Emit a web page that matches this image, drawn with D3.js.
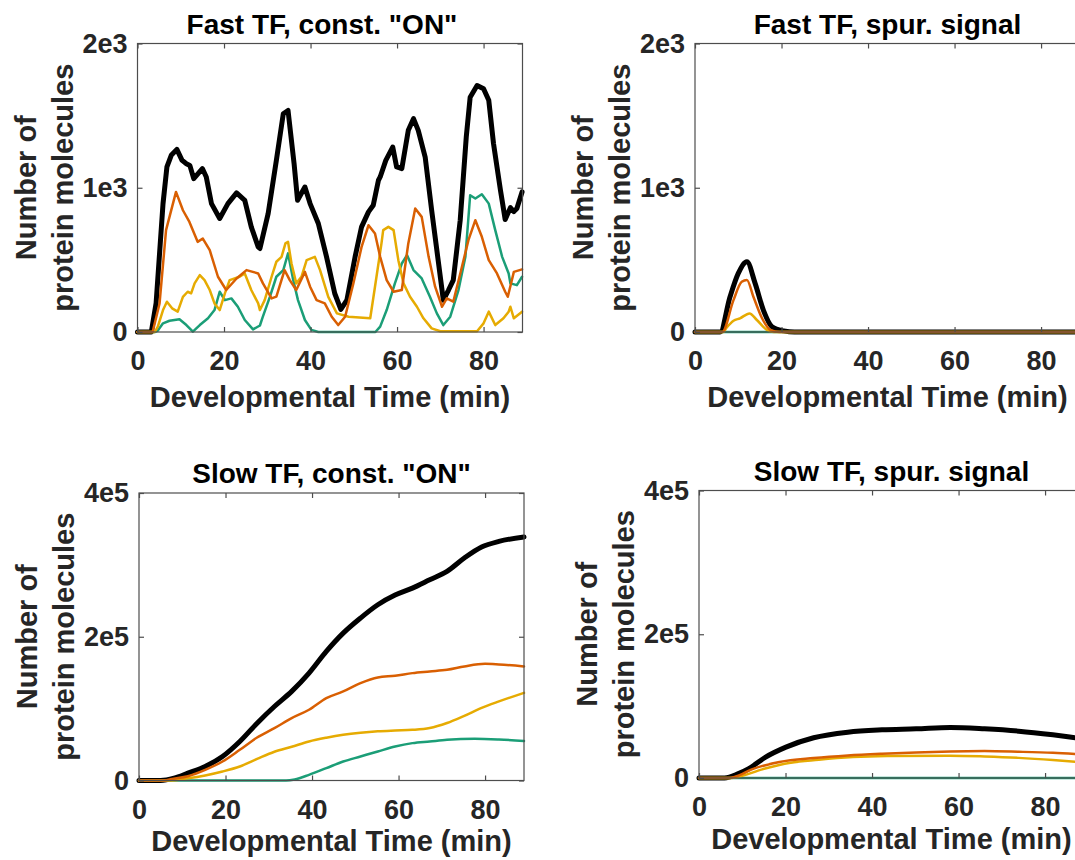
<!DOCTYPE html>
<html>
<head>
<meta charset="utf-8">
<script src="https://cdn.jsdelivr.net/npm/d3@7"></script>
<style>
  body { margin: 0; background: #fff; }
  svg { display: block; font-family: "Liberation Sans", Arial, sans-serif; font-weight: bold; }
</style>
</head>
<body>
<svg id="fig" width="1075" height="860"></svg>
<script>
// ---- data ----
var timeTicks = [0, 20, 40, 60, 80];
var timeMax = 89;
var fastYTicks = [0, 1000, 2000];
var fastYLabels = ["0", "1e3", "2e3"];
var slowYTicks = [0, 200000, 400000];
var slowYLabels = ["0", "2e5", "4e5"];
var panelTitles = ['Fast TF, const. "ON"', 'Fast TF, spur. signal', 'Slow TF, const. "ON"', 'Slow TF, spur. signal'];
var xLabel = "Developmental Time (min)";
var yLabel = ["Number of", "protein molecules"];

// [time, molecules]
var fastOnTotal = [[0,0],[3.2,0],[4.3,200],[5.9,890],[6.8,1144],[7.8,1225],[9.1,1266],[10.3,1190],[11.3,1167],[12.1,1155],[13.0,1063],[14.0,1098],[15.0,1133],[15.9,1075],[17.1,890],[19.0,787],[20.9,890],[22.9,964],[24.8,913],[26.3,729],[27.9,590],[28.3,579],[30.2,821],[32.1,1190],[33.7,1513],[34.8,1536],[36.2,1167],[37.0,913],[38.7,1005],[39.9,890],[41.8,752],[43.7,521],[45.6,267],[47.0,157],[48.4,221],[50.3,521],[51.8,729],[53.4,833],[54.5,879],[55.7,1052],[56.1,1075],[57.4,1190],[59.0,1282],[59.9,1144],[61.1,1133],[62.6,1398],[63.8,1479],[64.9,1398],[66.5,1213],[68.0,844],[69.6,475],[70.7,221],[71.9,291],[73.0,360],[74.6,775],[76.0,1352],[76.9,1628],[78.5,1709],[80.0,1686],[81.2,1606],[82.3,1306],[83.9,983],[85.0,780],[86.2,862],[87.0,835],[87.7,856],[88.9,971]];
var fastOnOrange = [[0,0],[3.5,0],[5.1,198],[6.6,706],[8.9,971],[10.5,844],[12.0,763],[13.9,625],[15.1,648],[16.7,567],[18.6,383],[20.5,291],[22.9,371],[25.2,429],[27.9,406],[29.0,337],[31.0,233],[32.1,245],[34.0,429],[35.2,360],[36.7,291],[38.7,417],[39.9,314],[41.4,221],[43.3,198],[44.9,106],[46.4,48],[48.0,106],[49.9,337],[51.8,590],[53.4,740],[54.9,683],[56.1,521],[57.6,360],[59.2,279],[61.1,291],[62.6,614],[64.2,856],[65.7,798],[67.3,521],[68.8,314],[70.4,175],[71.5,233],[73.0,210],[75.0,452],[76.5,637],[78.1,775],[79.6,660],[81.2,498],[83.1,406],[85.0,279],[85.6,244],[87.0,417],[88.9,434]];
var fastOnYellow = [[0,0],[4.0,0],[4.7,37],[5.9,152],[6.8,210],[8.0,164],[9.3,141],[10.5,244],[11.6,279],[12.4,268],[13.2,337],[14.4,394],[15.5,360],[16.7,291],[17.8,198],[19.0,152],[20.2,268],[21.3,360],[23.6,383],[24.8,406],[26.3,291],[27.9,198],[28.3,152],[29.4,221],[31.0,383],[32.1,487],[33.3,521],[34.2,614],[34.8,625],[35.6,475],[36.7,337],[37.9,383],[39.1,498],[41.0,521],[42.2,429],[44.1,244],[46.1,129],[48.8,106],[53.8,95],[54.9,314],[56.4,614],[56.8,706],[58.0,729],[59.2,706],[60.3,498],[61.5,337],[63.0,244],[64.6,175],[66.1,95],[68.0,25],[70.0,5],[78.5,5],[80.0,60],[81.2,141],[82.7,48],[84.6,95],[85.8,141],[86.2,175],[87.0,95],[88.9,141]];
var fastOnGreen = [[0,0],[4.0,0],[4.7,10],[5.9,60],[7.4,78],[9.7,88],[11.3,48],[12.8,2],[14.4,48],[16.3,95],[17.8,152],[19.0,279],[20.2,221],[21.7,233],[23.2,175],[24.8,83],[26.7,18],[28.3,45],[28.9,100],[30.6,244],[32.1,383],[33.7,429],[34.8,545],[36.0,360],[37.1,221],[38.7,83],[40.2,15],[41.8,0],[55.0,0],[56.1,37],[57.6,152],[59.5,337],[61.1,475],[62.3,533],[63.8,429],[65.7,371],[67.6,244],[69.2,129],[70.7,48],[72.3,106],[74.2,291],[75.8,521],[76.9,948],[78.1,925],[79.6,955],[81.2,890],[82.7,706],[84.3,521],[85.8,406],[86.2,337],[87.7,325],[88.9,383]];

var fastSpurTotal = [[0,0],[5.8,0],[8.1,244],[10.0,406],[12.0,487],[13.9,337],[15.8,152],[17.8,37],[20.5,8],[23,0],[89,0]];
var fastSpurOrange = [[0,0],[6.3,0],[8.9,221],[10.8,348],[12.0,360],[13.5,244],[15.5,95],[17.4,15],[19.5,0],[89,0]];
var fastSpurYellow = [[0,0],[6.5,0],[7.3,30],[8.9,78],[10.4,95],[12.6,129],[14.3,83],[16.6,15],[18.2,0],[89,0]];
var fastSpurGreen = [[0,0],[89,0]];

var slowOnTotal = [[0,0],[5,0],[8.1,3200],[11.3,10200],[15.3,19500],[19.3,33400],[23.3,54300],[27.3,79800],[31.3,103000],[35.3,124000],[39.3,149400],[43.3,179600],[47.2,205000],[51.2,226000],[55.2,244500],[59.2,258000],[63.2,267700],[67.2,279300],[71.2,291000],[75.2,309500],[79.2,324800],[83.2,332700],[89,338700]];
var slowOnOrange = [[0,0],[6,0],[7.3,1800],[11.3,6000],[15.3,14800],[19.3,26400],[23.3,42700],[27.3,59900],[31.3,72800],[35.3,86800],[39.3,98400],[43.3,114600],[47.2,123900],[51.2,135500],[55.2,143400],[59.2,145700],[63.2,149400],[67.2,151700],[71.2,154000],[75.2,158700],[80,162400],[83.2,161500],[89,158700]];
var slowOnYellow = [[0,0],[7,0],[11.3,3000],[15.3,7000],[19.3,12500],[23.3,19500],[27.3,30000],[31.3,40000],[35.3,47000],[39.3,54300],[43.3,59500],[47.2,63600],[51.2,66500],[55.2,68500],[59.2,69600],[63.2,70500],[67.2,73000],[71.2,80000],[75.2,90000],[79.2,101000],[83.2,110000],[89,122000]];
var slowOnGreen = [[0,0],[34,0],[36,1500],[39.3,7900],[43.3,17200],[47.2,26400],[51.2,33400],[55.2,40400],[59.2,47300],[63.2,52000],[67.2,54300],[71.2,56600],[77.6,58000],[83.2,57000],[89,55000]];

var slowSpurTotal = [[0,0],[5.9,0],[9.1,6000],[11.5,12900],[15.4,29100],[20.1,43000],[26.5,56000],[34.4,63800],[42.3,67000],[50.2,68400],[58.1,70300],[66.0,68400],[73.9,65200],[81.8,60100],[87.1,56000],[89,54500]];
var slowSpurOrange = [[0,0],[7,0],[8.5,2000],[12.2,12000],[18.6,22200],[26.5,27700],[34.4,31400],[42.3,33800],[50.2,35600],[58.1,37000],[66,37500],[73.9,36500],[81.8,35000],[89,32500]];
var slowSpurYellow = [[0,0],[7.5,0],[9,1500],[14.6,12000],[19.8,19900],[27.7,25400],[35.6,29100],[43.5,30500],[58,31000],[66,29900],[73.9,28000],[81.8,25000],[89,21500]];
var slowSpurGreen = [[0,0],[89,0]];

// ---- drawing ----
var svg = d3.select("#fig");
var axisColor = "#4d4d4d", textColor = "#262626";
var plotWidth = 385;

function seriesOf(total, green, yellow, orange) {
  // black drawn first, orange ends up on top
  return [
    {data: total,  color: "#000000", width: 5},
    {data: green,  color: "#1b9e77", width: 2.5},
    {data: yellow, color: "#e6ab02", width: 2.5},
    {data: orange, color: "#d95f02", width: 2.5}
  ];
}

var panels = [
  {left: 137.5, top: 43.5, bottom: 332, ticks: fastYTicks, labels: fastYLabels, title: panelTitles[0],
   titleShift: -8, xLabelGap: 75,
   curve: d3.curveLinear, series: seriesOf(fastOnTotal, fastOnGreen, fastOnYellow, fastOnOrange)},
  {left: 695, top: 43.5, bottom: 332, ticks: fastYTicks, labels: fastYLabels, title: panelTitles[1],
   titleShift: 0, xLabelGap: 75,
   curve: d3.curveMonotoneX, series: seriesOf(fastSpurTotal, fastSpurGreen, fastSpurYellow, fastSpurOrange)},
  {left: 139, top: 493, bottom: 780.5, ticks: slowYTicks, labels: slowYLabels, title: panelTitles[2],
   titleShift: 0, xLabelGap: 70,
   curve: d3.curveMonotoneX, series: seriesOf(slowOnTotal, slowOnGreen, slowOnYellow, slowOnOrange)},
  {left: 699, top: 490.5, bottom: 778, ticks: slowYTicks, labels: slowYLabels, title: panelTitles[3],
   titleShift: 0, xLabelGap: 71,
   curve: d3.curveMonotoneX, series: seriesOf(slowSpurTotal, slowSpurGreen, slowSpurYellow, slowSpurOrange)}
];

panels.forEach(function(p) {
  var x = d3.scaleLinear().domain([0, timeMax]).range([p.left, p.left + plotWidth]);
  var y = d3.scaleLinear().domain([0, p.ticks[p.ticks.length - 1]]).range([p.bottom, p.top]);
  var g = svg.append("g");

  var line = d3.line()
    .x(function(d) { return x(d[0]); })
    .y(function(d) { return y(d[1]); })
    .curve(p.curve);

  p.series.forEach(function(s) {
    g.append("path")
      .datum(s.data)
      .attr("d", line)
      .attr("fill", "none")
      .attr("stroke", s.color)
      .attr("stroke-width", s.width)
      .attr("stroke-linejoin", "round")
      .attr("stroke-linecap", "round");
  });

  // box
  g.append("rect")
    .attr("x", p.left).attr("y", p.top)
    .attr("width", plotWidth).attr("height", p.bottom - p.top)
    .attr("fill", "none").attr("stroke", axisColor).attr("stroke-width", 1.2);

  // axes, ticks pointing inward
  g.append("g")
    .attr("transform", "translate(0," + p.bottom + ")")
    .call(d3.axisBottom(x).tickValues(timeTicks).tickSizeInner(-5).tickSizeOuter(0).tickPadding(19));
  g.append("g")
    .attr("transform", "translate(0," + p.top + ")")
    .call(d3.axisTop(x).tickValues(timeTicks).tickSizeInner(-5).tickSizeOuter(0).tickFormat(""));
  g.append("g")
    .attr("transform", "translate(" + p.left + ",0)")
    .call(d3.axisLeft(y).tickValues(p.ticks).tickSizeInner(-5).tickSizeOuter(0).tickPadding(10)
      .tickFormat(function(d, i) { return p.labels[i]; }));
  g.append("g")
    .attr("transform", "translate(" + (p.left + plotWidth) + ",0)")
    .call(d3.axisRight(y).tickValues(p.ticks).tickSizeInner(-5).tickSizeOuter(0).tickFormat(""));

  g.selectAll(".domain").remove();
  g.selectAll(".tick line").attr("stroke", axisColor).attr("stroke-width", 1.2);
  g.selectAll(".tick text")
    .attr("fill", textColor)
    .style("font-size", "27px")
    .style("font-family", '"Liberation Sans", Arial, sans-serif')
    .style("font-weight", "bold");

  var cx = p.left + plotWidth / 2;

  // title
  g.append("text")
    .attr("x", cx + p.titleShift).attr("y", p.top - 10)
    .attr("text-anchor", "middle")
    .attr("fill", "#000")
    .style("font-size", "28px")
    .text(p.title);

  // x label
  g.append("text")
    .attr("x", cx).attr("y", p.bottom + p.xLabelGap)
    .attr("text-anchor", "middle")
    .attr("fill", textColor)
    .style("font-size", "29px")
    .text(xLabel);

  // y label, two lines
  var cy = (p.top + p.bottom) / 2;
  yLabel.forEach(function(txt, i) {
    var lx = p.left - 102 + i * 37;
    g.append("text")
      .attr("transform", "translate(" + lx + "," + cy + ") rotate(-90)")
      .attr("text-anchor", "middle")
      .attr("fill", textColor)
      .style("font-size", "29px")
      .text(txt);
  });
});
</script>
</body>
</html>
